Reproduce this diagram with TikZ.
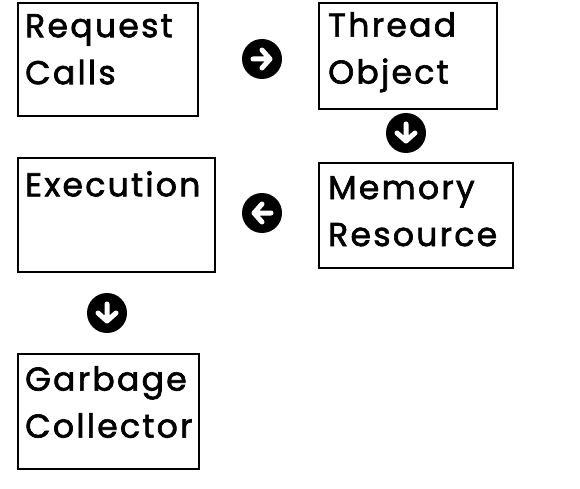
\documentclass[tikz,border=0pt]{standalone}
\usepackage{fontspec}
\setmainfont{Poppins}[LetterSpace=7,FakeBold=2]
\begin{document}
\begin{tikzpicture}[x=1pt,y=-1pt,
  box/.style={draw=black, line width=1.8pt, rectangle, inner sep=0pt, anchor=north west},
  lbl/.style={anchor=north west, inner sep=0pt, align=left, font=\fontsize{33}{47}\selectfont},
  icon/.style={circle, fill=black, minimum size=40pt, inner sep=0pt},
  wht/.style={white, line width=5pt, line cap=round, line join=round}]
\useasboundingbox (0,0) rectangle (580,489);
% boxes
\node[box, minimum width=180pt, minimum height=113pt] (req) at (17,2) {};
\node[box, minimum width=178pt, minimum height=106pt] (thr) at (318,2) {};
\node[box, minimum width=194pt, minimum height=105pt] (mem) at (318,162) {};
\node[box, minimum width=197pt, minimum height=114pt] (exe) at (17,157) {};
\node[box, minimum width=181pt, minimum height=115pt] (gar) at (17,353) {};
% labels
\node[lbl] (reqt) at (25,14) {Request\\Calls};
\node[lbl] (thrt) at (328,12) {Thread\\Object};
\node[lbl] (memt) at (328,176) {Memory\\Resource};
\node[lbl] (exet) at (25,171) {Execution};
\node[lbl] (gart) at (25,366) {Garbage\\Collector};
% icons
\node[icon] (i1) at (262,59) {};
\draw[wht] ([xshift=-9pt]i1.center) -- ([xshift=8pt]i1.center)
  ([xshift=0pt,yshift=9pt]i1.center) -- ([xshift=8pt]i1.center) -- ([xshift=0pt,yshift=-9pt]i1.center);
\node[icon] (i2) at (406,133) {};
\draw[wht] ([yshift=9pt]i2.center) -- ([yshift=-8pt]i2.center)
  ([xshift=-9pt,yshift=0pt]i2.center) -- ([yshift=-8pt]i2.center) -- ([xshift=9pt,yshift=0pt]i2.center);
\node[icon] (i3) at (262,213) {};
\draw[wht] ([xshift=9pt]i3.center) -- ([xshift=-8pt]i3.center)
  ([xshift=0pt,yshift=9pt]i3.center) -- ([xshift=-8pt]i3.center) -- ([xshift=0pt,yshift=-9pt]i3.center);
\node[icon] (i4) at (107,313) {};
\draw[wht] ([yshift=9pt]i4.center) -- ([yshift=-8pt]i4.center)
  ([xshift=-9pt,yshift=0pt]i4.center) -- ([yshift=-8pt]i4.center) -- ([xshift=9pt,yshift=0pt]i4.center);
\end{tikzpicture}
\end{document}
